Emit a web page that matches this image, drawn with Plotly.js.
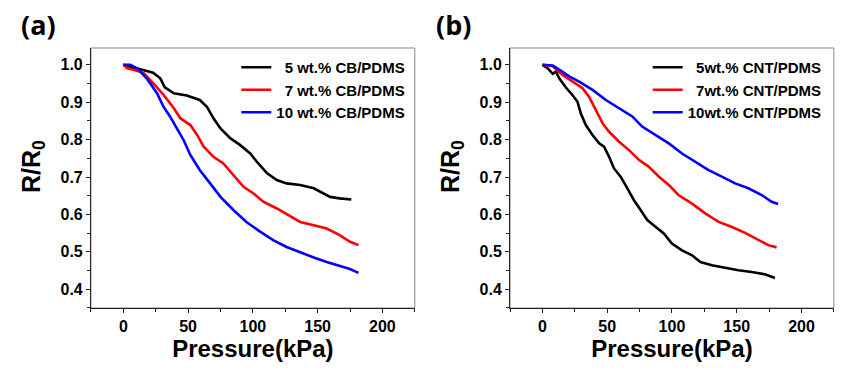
<!DOCTYPE html>
<html><head><meta charset="utf-8">
<script src="https://cdn.plot.ly/plotly-3.0.1.min.js"></script>
<style>html,body{margin:0;padding:0;background:#fff}#chart{width:850px;height:370px}</style>
</head><body><div id="chart"></div>
<script>
// Panel (a): CB/PDMS
const cb5_x = [0, 13, 23, 28.5, 32, 39, 49, 59, 64.5, 69.6, 75, 82.5, 90, 98, 103, 111, 118.5, 126, 136.5, 147, 152, 159.6, 167, 176];
const cb5_y = [1.0, 0.988, 0.979, 0.964, 0.94, 0.924, 0.918, 0.906, 0.888, 0.857, 0.83, 0.804, 0.786, 0.763, 0.741, 0.71, 0.692, 0.683, 0.679, 0.67, 0.661, 0.647, 0.643, 0.64];
const cb7_x = [0, 3, 8, 15.7, 23, 31, 39, 44, 51.7, 57, 62, 69.6, 77, 85, 92.8, 100.5, 108, 118.5, 129, 136.5, 147, 157, 167, 175, 181.5];
const cb7_y = [1.0, 0.991, 0.987, 0.978, 0.951, 0.92, 0.884, 0.857, 0.839, 0.8125, 0.781, 0.754, 0.737, 0.705, 0.674, 0.656, 0.634, 0.616, 0.594, 0.58, 0.571, 0.5625, 0.545, 0.527, 0.518];
const cb10_x = [0, 5.4, 10.5, 18, 26, 31, 36, 41, 46.5, 51.7, 59, 67, 75, 85, 95, 105.6, 116, 126, 136.5, 147, 157, 167, 175, 181.5];
const cb10_y = [1.0, 1.0, 0.991, 0.964, 0.924, 0.888, 0.862, 0.83, 0.799, 0.759, 0.719, 0.683, 0.647, 0.612, 0.58, 0.554, 0.531, 0.513, 0.498, 0.485, 0.473, 0.4625, 0.454, 0.444];
// Panel (b): CNT/PDMS
const cnt5_x = [0, 4, 8, 10.5, 13, 18, 23, 27, 29.7, 33.5, 38.7, 43.8, 47.6, 51.5, 55.3, 60.4, 65.6, 70.7, 75.8, 81, 87.3, 93.7, 100, 107.8, 115.5, 122, 130.8, 141, 151.3, 161.6, 171.8, 179.5];
const cnt5_y = [1.0, 0.991, 0.976, 0.982, 0.964, 0.94, 0.92, 0.902, 0.87, 0.839, 0.8125, 0.79, 0.781, 0.754, 0.723, 0.701, 0.67, 0.638, 0.612, 0.585, 0.567, 0.549, 0.522, 0.504, 0.491, 0.473, 0.464, 0.457, 0.451, 0.446, 0.44, 0.43];
const cnt7_x = [0, 8, 15.6, 23.3, 31, 36, 41, 46.4, 51.5, 59, 66.8, 74.5, 82, 90, 97.6, 105, 115.5, 125.7, 136, 146, 156.5, 166.7, 174.4, 180.8];
const cnt7_y = [1.0, 0.996, 0.973, 0.955, 0.9375, 0.915, 0.879, 0.844, 0.821, 0.795, 0.772, 0.746, 0.728, 0.701, 0.679, 0.652, 0.629, 0.603, 0.58, 0.567, 0.551, 0.533, 0.518, 0.512];
const cnt10_x = [0, 8, 13, 20.7, 28.4, 38.7, 49, 59, 69.4, 77, 87.3, 97.6, 107.8, 118, 128, 138.5, 148.8, 159, 169.3, 177, 182];
const cnt10_y = [1.0, 0.998, 0.987, 0.969, 0.955, 0.933, 0.906, 0.884, 0.862, 0.835, 0.8125, 0.79, 0.763, 0.741, 0.719, 0.701, 0.683, 0.67, 0.652, 0.634, 0.628];

const namesA = ['\u20075 wt.% CB/PDMS', '\u20077 wt.% CB/PDMS', '10 wt.% CB/PDMS'];
const namesB = ['\u20075wt.% CNT/PDMS', '\u20077wt.% CNT/PDMS', '10wt.% CNT/PDMS'];
const colors = ['#000000', '#ff0000', '#0000ff'];

const FONT = 'Liberation Sans, Arial, sans-serif';
const lw = 2.6;
function tr(x, y, name, c, xa, ya, lg) {
  return {x: x, y: y, name: name, type: 'scatter', mode: 'lines', line: {color: c, width: lw},
          xaxis: xa, yaxis: ya, legend: lg};
}
const data = [
  tr(cb5_x, cb5_y, namesA[0], colors[0], 'x', 'y', 'legend'),
  tr(cb7_x, cb7_y, namesA[1], colors[1], 'x', 'y', 'legend'),
  tr(cb10_x, cb10_y, namesA[2], colors[2], 'x', 'y', 'legend'),
  tr(cnt5_x, cnt5_y, namesB[0], colors[0], 'x2', 'y2', 'legend2'),
  tr(cnt7_x, cnt7_y, namesB[1], colors[1], 'x2', 'y2', 'legend2'),
  tr(cnt10_x, cnt10_y, namesB[2], colors[2], 'x2', 'y2', 'legend2')
];

const tickFont = {family: FONT, size: 16, color: '#000', weight: 700};
const titleFont = {family: FONT, size: 24, color: '#000', weight: 700};
function xax(domain, anchor) {
  return {domain: domain, anchor: anchor, range: [-25, 225], tickvals: [0, 50, 100, 150, 200],
    ticks: 'outside', ticklen: 4, tickwidth: 1, tickcolor: '#222', showline: true, linecolor: '#222', linewidth: 1,
    minor: {dtick: 25, tick0: 0, ticks: 'outside', ticklen: 3, tickcolor: '#222'},
    showgrid: false, zeroline: false, tickfont: tickFont,
    title: {text: 'Pressure(kPa)', font: titleFont, standoff: 0}};
}
function yax(domain, anchor) {
  return {domain: domain, anchor: anchor, range: [0.35, 1.045], tickvals: [0.4, 0.5, 0.6, 0.7, 0.8, 0.9, 1.0],
    tickformat: '.1f',
    ticks: 'outside', ticklen: 4, tickwidth: 1, tickcolor: '#222', showline: true, linecolor: '#222', linewidth: 1,
    minor: {dtick: 0.05, tick0: 0.4, ticks: 'outside', ticklen: 3, tickcolor: '#222'},
    showgrid: false, zeroline: false, tickfont: tickFont};
}
const yd = [0.1676, 0.8703];
const legFont = {family: FONT, size: 15, color: '#000', weight: 700};
const yTitleFont = {family: FONT, size: 25, color: '#000', weight: 700};
const layout = {
  width: 850, height: 370, margin: {l: 0, r: 0, t: 0, b: 0},
  paper_bgcolor: '#fff', plot_bgcolor: '#fff', showlegend: true,
  xaxis: xax([0.107, 0.488], 'y'), yaxis: yax(yd, 'x'),
  xaxis2: xax([0.6, 0.981], 'y2'), yaxis2: yax(yd, 'x2'),
  legend: {x: 0.278, y: 0.862, xanchor: 'left', yanchor: 'top', bgcolor: 'rgba(0,0,0,0)', font: legFont,
           itemwidth: 30, tracegroupgap: 0, traceorder: 'normal'},
  legend2: {x: 0.762, y: 0.862, xanchor: 'left', yanchor: 'top', bgcolor: 'rgba(0,0,0,0)', font: legFont,
           itemwidth: 30, tracegroupgap: 0, traceorder: 'normal'},
  shapes: [
    {type: 'rect', xref: 'x domain', yref: 'y domain', x0: 0, x1: 1, y0: 0, y1: 1, line: {color: '#888', width: 1}, layer: 'below'},
    {type: 'rect', xref: 'x2 domain', yref: 'y2 domain', x0: 0, x1: 1, y0: 0, y1: 1, line: {color: '#888', width: 1}, layer: 'below'}
  ],
  annotations: [
    {text: '(a)', xref: 'paper', yref: 'paper', x: 0.022, y: 0.99, xanchor: 'left', yanchor: 'top', showarrow: false,
     font: {family: 'Open Sans, sans-serif', size: 27, color: '#000', weight: 700}},
    {text: '(b)', xref: 'paper', yref: 'paper', x: 0.511, y: 0.99, xanchor: 'left', yanchor: 'top', showarrow: false,
     font: {family: 'Open Sans, sans-serif', size: 27, color: '#000', weight: 700}},
    {text: 'R/R<sub>0</sub>', xref: 'paper', yref: 'paper', x: 33 / 850, y: 1 - 167 / 370, xanchor: 'center', yanchor: 'middle',
     textangle: -90, showarrow: false, font: yTitleFont},
    {text: 'R/R<sub>0</sub>', xref: 'paper', yref: 'paper', x: 452 / 850, y: 1 - 167 / 370, xanchor: 'center', yanchor: 'middle',
     textangle: -90, showarrow: false, font: yTitleFont}
  ]
};
Plotly.newPlot('chart', data, layout, {displayModeBar: false, staticPlot: true});
</script></body></html>
